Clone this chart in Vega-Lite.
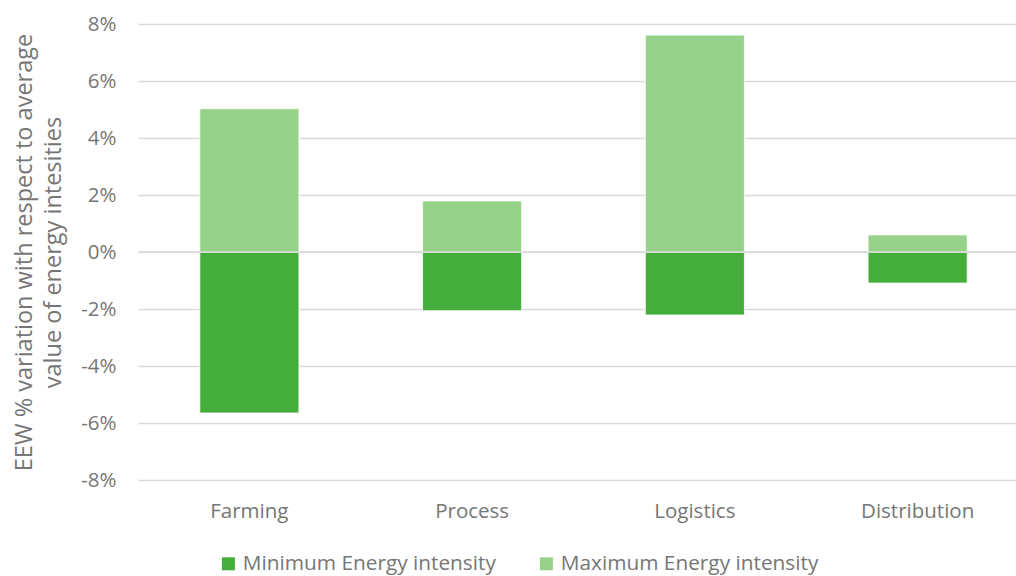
{
  "$schema": "https://vega.github.io/schema/vega-lite/v6.json",
  "width": 891,
  "height": 456,
  "autosize": {"type": "none"},
  "padding": {"left": 138, "top": 24, "right": 0, "bottom": 96},
  "background": "white",
  "config": {
    "view": {"stroke": null},
    "font": "Open Sans",
    "axis": {"labelColor": "#767676", "titleColor": "#767676", "labelFont": "Open Sans", "titleFont": "Open Sans"},
    "legend": {"labelColor": "#767676", "labelFont": "Open Sans"}
  },
  "data": {
    "values": [
      {"stage": "Farming", "series": "Minimum Energy intensity", "value": -0.0565},
      {"stage": "Farming", "series": "Maximum Energy intensity", "value": 0.0503},
      {"stage": "Process", "series": "Minimum Energy intensity", "value": -0.0206},
      {"stage": "Process", "series": "Maximum Energy intensity", "value": 0.0179},
      {"stage": "Logistics", "series": "Minimum Energy intensity", "value": -0.0221},
      {"stage": "Logistics", "series": "Maximum Energy intensity", "value": 0.0761},
      {"stage": "Distribution", "series": "Minimum Energy intensity", "value": -0.0109},
      {"stage": "Distribution", "series": "Maximum Energy intensity", "value": 0.006}
    ]
  },
  "layer": [
    {
      "mark": {"type": "bar", "stroke": "white", "strokeWidth": 0.8},
      "encoding": {
        "x": {
          "field": "stage",
          "type": "nominal",
          "sort": null,
          "scale": {"paddingInner": 0.555, "paddingOuter": 0.2775},
          "axis": {
            "title": null,
            "labelAngle": 0,
            "labelFontSize": 20.5,
            "labelPadding": 21,
            "ticks": false,
            "domain": false,
            "grid": false
          }
        },
        "y": {
          "field": "value",
          "type": "quantitative",
          "stack": "zero",
          "scale": {"domain": [-0.08, 0.08], "nice": false},
          "axis": {
            "format": ".0%",
            "labelExpr": "replace(datum.label, '\u2212', '-')",
            "values": [-0.08, -0.06, -0.04, -0.02, 0, 0.02, 0.04, 0.06, 0.08],
            "title": ["EEW % variation with respect to average", "value of energy intesities"],
            "titleFontSize": 23.5,
            "titleFontWeight": "normal",
            "titleLineHeight": 29,
            "titlePadding": 15,
            "labelFontSize": 20.5,
            "labelPadding": 22,
            "ticks": false,
            "domain": false,
            "grid": true,
            "gridColor": "#d9d9d9",
            "gridWidth": 1.5
          }
        },
        "color": {
          "field": "series",
          "type": "nominal",
          "scale": {
            "domain": ["Minimum Energy intensity", "Maximum Energy intensity"],
            "range": ["#45ad3b", "#97d28a"]
          },
          "legend": {
            "title": null,
            "orient": "none",
            "direction": "horizontal",
            "legendX": 80,
            "legendY": 529,
            "symbolType": "square",
            "symbolSize": 169,
            "symbolStrokeWidth": 0,
            "labelFontSize": 20.8,
            "labelLimit": 0,
            "columnPadding": 40,
            "labelOffset": 4
          }
        },
        "order": {"field": "series", "sort": "descending"}
      }
    },
    {
      "data": {"values": [{"zero": 0}]},
      "mark": {"type": "rule", "color": "#d9d9d9", "strokeWidth": 1.5},
      "encoding": {
        "y": {"field": "zero", "type": "quantitative"}
      }
    }
  ]
}
